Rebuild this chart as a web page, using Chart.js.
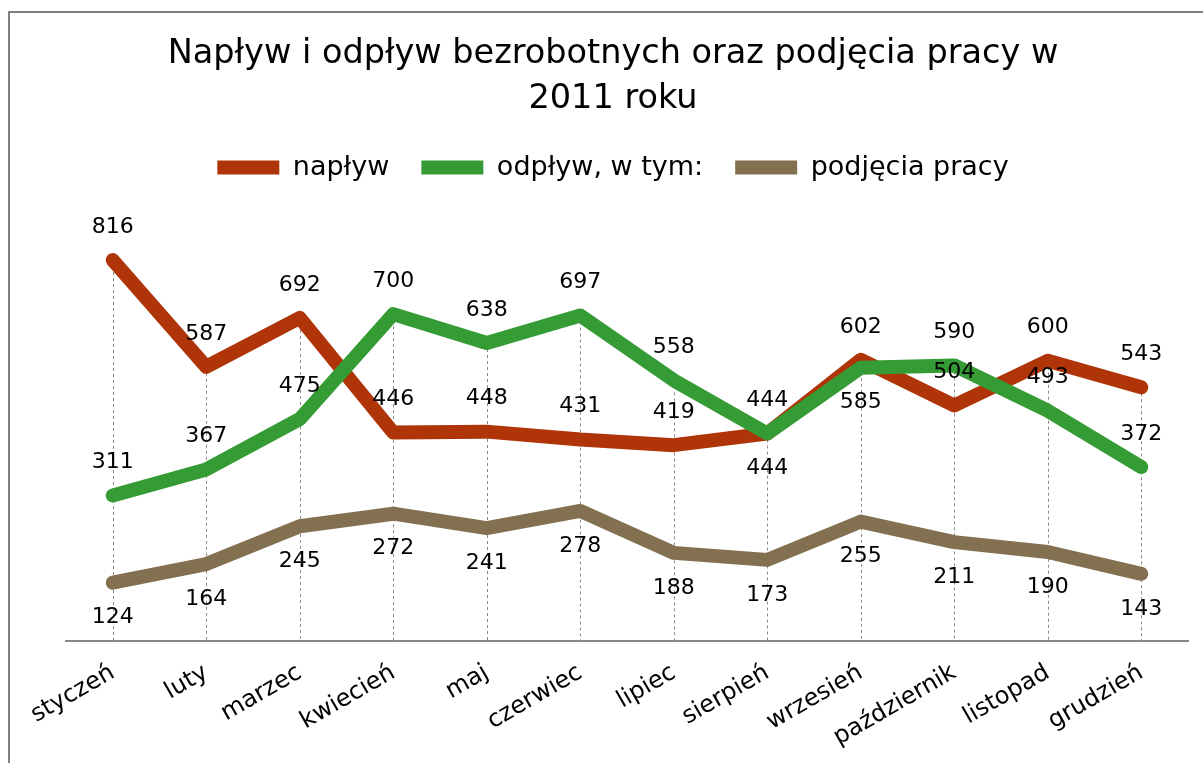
<!DOCTYPE html>
<html>
<head>
<meta charset="utf-8">
<script src="https://cdn.jsdelivr.net/npm/chart.js@4.4.0/dist/chart.umd.min.js"></script>
<style>
  html, body { margin: 0; padding: 0; background: #fff; }
  #frame {
    position: absolute; left: 8px; top: 11px; width: 1300px; height: 900px;
    border-left: 2px solid #7f7f7f; border-top: 2px solid #7f7f7f;
  }
  #wrap { position: absolute; left: 0; top: 0; width: 1203px; height: 763px; }
</style>
</head>
<body>
<div id="frame"></div>
<div id="wrap"><canvas id="chart" width="1203" height="763"></canvas></div>
<script>
// months
const months = ['styczeń', 'luty', 'marzec', 'kwiecień', 'maj', 'czerwiec', 'lipiec',
    'sierpień', 'wrzesień', 'październik', 'listopad', 'grudzień'];

// series
const naplyw = [816, 587, 692, 446, 448, 431, 419, 444, 602, 504, 600, 543];
const odplyw = [311, 367, 475, 700, 638, 697, 558, 444, 585, 590, 493, 372];
const podjecia = [124, 164, 245, 272, 241, 278, 188, 173, 255, 211, 190, 143];

const FONT = "'DejaVu Sans', sans-serif";

// dotted lines from the highest point down to the axis
const dropLines = {
    id: 'dropLines',
    beforeDatasetsDraw(chart) {
        const ctx = chart.ctx;
        const x = chart.scales.x, y = chart.scales.y;
        const bottom = chart.chartArea.bottom;
        ctx.save();
        ctx.strokeStyle = '#8a8a8a';
        ctx.lineWidth = 1;
        ctx.setLineDash([3, 3]);
        months.forEach((m, i) => {
            const top = Math.max(...chart.data.datasets.map(d => d.data[i]));
            const px = Math.round(x.getPixelForValue(i)) + 0.5;
            ctx.beginPath();
            ctx.moveTo(px, y.getPixelForValue(top));
            ctx.lineTo(px, bottom);
            ctx.stroke();
        });
        ctx.restore();
    }
};

// value labels above / below the points
const valueLabels = {
    id: 'valueLabels',
    afterDatasetsDraw(chart) {
        const ctx = chart.ctx;
        ctx.save();
        ctx.font = '22px ' + FONT;
        ctx.fillStyle = '#000';
        ctx.textAlign = 'center';
        ctx.textBaseline = 'middle';
        chart.data.datasets.forEach((ds, di) => {
            const meta = chart.getDatasetMeta(di);
            meta.data.forEach((pt, i) => {
                let below = ds.labelSide === 'below';
                if (ds.flipLabels && ds.flipLabels.includes(i)) below = !below;
                const dy = below ? 35 : -33;
                ctx.fillText(String(ds.data[i]), pt.x, pt.y + dy);
            });
        });
        ctx.restore();
    }
};

const context = document.getElementById('chart').getContext('2d');
new Chart(context, {
    type: 'line',
    data: {
        labels: months,
        datasets: [
            {
                label: 'napływ',
                data: naplyw,
                borderColor: '#af3509',
                backgroundColor: '#af3509',
                labelSide: 'above',
                order: 3
            },
            {
                label: 'odpływ, w tym:',
                data: odplyw,
                borderColor: '#359b35',
                backgroundColor: '#359b35',
                labelSide: 'above',
                flipLabels: [7, 8],
                order: 2
            },
            {
                label: 'podjęcia pracy',
                data: podjecia,
                borderColor: '#827050',
                backgroundColor: '#827050',
                labelSide: 'below',
                order: 1
            }
        ]
    },
    options: {
        responsive: false,
        animation: false,
        devicePixelRatio: 1,
        datasets: {
            line: {
                borderWidth: 14,
                borderCapStyle: 'round',
                borderJoinStyle: 'round',
                pointRadius: 0,
                pointHoverRadius: 0,
                tension: 0,
                fill: false
            }
        },
        layout: {
            padding: { top: 0, left: 38, right: 15, bottom: 1 }
        },
        plugins: {
            title: {
                display: true,
                text: ['Napływ i odpływ bezrobotnych oraz podjęcia pracy w', '2011 roku'],
                color: '#000',
                font: { family: FONT, size: 33.5, weight: 'normal', lineHeight: '45px' },
                padding: { top: 32, bottom: 0 }
            },
            legend: {
                display: true,
                labels: {
                    usePointStyle: true,
                    pointStyle: 'line',
                    pointStyleWidth: 62,
                    color: '#000',
                    padding: 32,
                    font: { family: FONT, size: 27 },
                    sort: (a, b) => a.datasetIndex - b.datasetIndex
                }
            },
            tooltip: { enabled: false }
        },
        scales: {
            x: {
                offset: true,
                grid: { display: false },
                border: { display: true, color: '#878787', width: 2 },
                ticks: {
                    color: '#000',
                    font: { family: FONT, size: 24 },
                    minRotation: 30,
                    maxRotation: 30,
                    autoSkip: false,
                    padding: 10
                },
                afterFit: (scale) => { scale.paddingLeft = 66; }
            },
            y: {
                display: false,
                min: 0,
                max: 964
            }
        }
    },
    plugins: [dropLines, valueLabels]
});
</script>
</body>
</html>
